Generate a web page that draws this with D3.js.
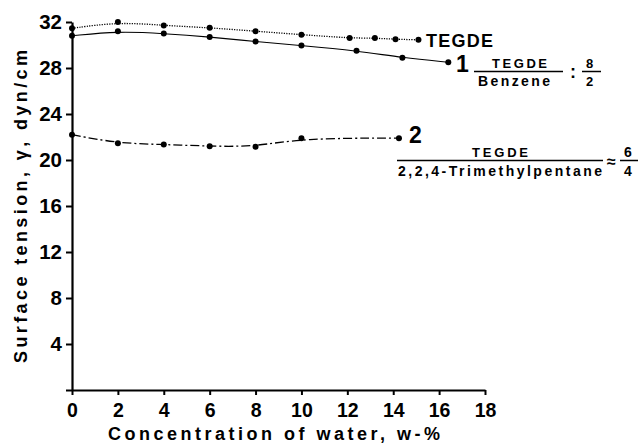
<!DOCTYPE html>
<html>
<head>
<meta charset="utf-8">
<script src="https://cdn.jsdelivr.net/npm/d3@7"></script>
<style>
  body { margin: 0; background: #fff; }
  text { font-family: "Liberation Sans", Arial, sans-serif; fill: #000; }
</style>
</head>
<body>
<div id="chart"></div>
<script>
// data
const tegdeX = [0, 2, 4, 6, 8, 10, 12.1, 13.2, 14.1, 15.1];
const tegdeY = [31.45, 32.0, 31.7, 31.5, 31.2, 30.9, 30.6, 30.6, 30.5, 30.45];

const benzX = [0, 2, 4, 6, 8, 10, 12.4, 14.4, 16.4];
const benzY = [30.8, 31.2, 31.0, 30.7, 30.3, 29.95, 29.5, 28.9, 28.5];

const tmpX = [0, 2, 4, 6, 8, 10, 14.25];
const tmpY = [22.2, 21.45, 21.35, 21.2, 21.15, 21.9, 21.9];

const xTicks = [0, 2, 4, 6, 8, 10, 12, 14, 16, 18];
const yTicks = [0, 4, 8, 12, 16, 20, 24, 28, 32];

const width = 638, height = 443;

const svg = d3.select("#chart").append("svg")
    .attr("width", width)
    .attr("height", height);

const x = d3.scaleLinear().domain([0, 18]).range([72, 485]);
const y = d3.scaleLinear().domain([0, 32]).range([390, 22]);

// axes
const xAxis = svg.append("g")
    .attr("transform", `translate(0,${y(0)})`)
    .call(d3.axisBottom(x).tickValues(xTicks).tickSize(5).tickSizeOuter(0).tickPadding(8));

const yAxis = svg.append("g")
    .attr("transform", `translate(${x(0)},0)`)
    .call(d3.axisLeft(y).tickValues(yTicks).tickSize(6).tickSizeOuter(0).tickPadding(4)
        .tickFormat(d => d === 0 ? "" : d));

[xAxis, yAxis].forEach(g => {
  g.select(".domain").attr("stroke", "#000").attr("stroke-width", 2.2);
  g.selectAll(".tick line").attr("stroke", "#000").attr("stroke-width", 2);
  g.selectAll(".tick text")
      .style("font-family", '"Liberation Sans", Arial, sans-serif')
      .style("font-size", g === xAxis ? "19.5px" : "20.5px")
      .style("font-weight", "bold")
      .attr("fill", "#000");
});

// axis titles
svg.append("text")
    .attr("x", 108).attr("y", 440)
    .attr("textLength", 332).attr("lengthAdjust", "spacing")
    .style("font-size", "18px").style("font-weight", "bold")
    .text("Concentration of water, w-%");

svg.append("text")
    .attr("transform", "translate(27,363) rotate(-90)")
    .attr("textLength", 313).attr("lengthAdjust", "spacing")
    .style("font-size", "18px").style("font-weight", "bold")
    .text("Surface tension, γ, dyn/cm");

// lines
const line = d3.line().x(d => x(d[0])).y(d => y(d[1])).curve(d3.curveBasis);

const series = [
  { xs: tegdeX, ys: tegdeY, dash: "1.2,1.3", w: 1.3 },
  { xs: benzX, ys: benzY, dash: null, w: 1.1 },
  { xs: tmpX, ys: tmpY, dash: "9,3,2,3", w: 1.3 }
];

series.forEach(s => {
  const pts = s.xs.map((v, i) => [v, s.ys[i]]);
  svg.append("path")
      .datum(pts)
      .attr("d", line)
      .attr("fill", "none")
      .attr("stroke", "#000")
      .attr("stroke-width", s.w)
      .attr("stroke-dasharray", s.dash);
  svg.selectAll(null)
      .data(pts)
      .enter().append("circle")
      .attr("cx", d => x(d[0]))
      .attr("cy", d => y(d[1]))
      .attr("r", 3)
      .attr("fill", "#000");
});

// annotations
function label(px, py, txt, size, len) {
  const t = svg.append("text")
      .attr("x", px).attr("y", py)
      .style("font-size", size + "px").style("font-weight", "bold")
      .text(txt);
  if (len) t.attr("textLength", len).attr("lengthAdjust", "spacing");
  return t;
}
function rule(x1, x2, yy) {
  svg.append("line").attr("x1", x1).attr("x2", x2).attr("y1", yy).attr("y2", yy)
      .attr("stroke", "#000").attr("stroke-width", 1.5);
}

label(426, 47, "TEGDE", 18, 67);

label(456, 72, "1", 23);
label(492, 68, "TEGDE", 13, 55);
rule(474, 563, 71.5);
label(478, 86, "Benzene", 14, 72);
label(570, 78, ":", 18);
label(586, 68, "8", 13);
rule(582, 601, 71.5);
label(586, 86, "2", 13);

label(409, 143, "2", 23);
label(472, 157, "TEGDE", 13, 56);
rule(397, 603, 160.5);
label(398, 176, "2,2,4-Trimethylpentane", 14, 204);
label(607, 167, "≈", 16);
label(624, 157, "6", 14);
rule(620, 638, 160.5);
label(624, 176, "4", 14);
</script>
</body>
</html>
